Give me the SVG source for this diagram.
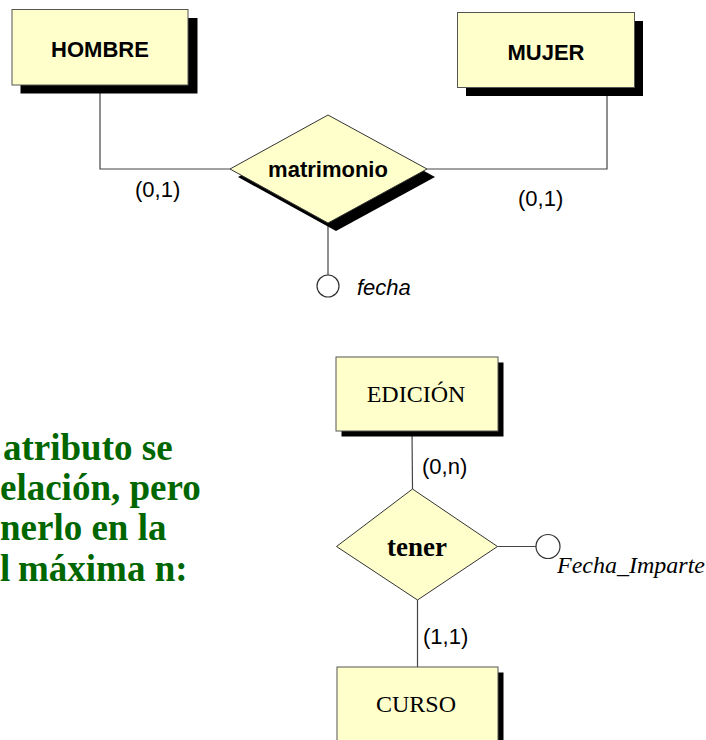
<svg xmlns="http://www.w3.org/2000/svg" width="706" height="740" viewBox="0 0 706 740">
<style>
.ent{fill:#FFFFCC;stroke:#555555;stroke-width:1}
.rel{fill:#FFFFCC;stroke:#333333;stroke-width:1}
.sh{fill:#000000}
.ln{fill:none;stroke:#444444;stroke-width:1.2}
.att{fill:#FFFFFF;stroke:#333333;stroke-width:1.2}
.sb{font-family:"Liberation Sans",Arial,sans-serif;font-weight:bold;font-size:22px;fill:#000;text-anchor:middle}
.sr{font-family:"Liberation Sans",Arial,sans-serif;font-size:22px;fill:#000}
.si{font-family:"Liberation Sans",Arial,sans-serif;font-style:italic;font-size:22px;fill:#000}
.tr{font-family:"Liberation Serif","Times New Roman",serif;font-size:24px;fill:#000;text-anchor:middle}
.tb{font-family:"Liberation Serif","Times New Roman",serif;font-weight:bold;font-size:27px;fill:#000;text-anchor:middle}
.ti{font-family:"Liberation Serif","Times New Roman",serif;font-style:italic;font-size:24px;fill:#000}
.gr{font-family:"Liberation Serif","Times New Roman",serif;font-weight:bold;font-size:37px;fill:#006600}
</style>
<g id="connectors">
<polyline class="ln" points="100,85 100,169 230,169"/>
<polyline class="ln" points="427,169 607,169 607,87"/>
<line class="ln" x1="328" y1="223" x2="328" y2="275"/>
<line class="ln" x1="412" y1="431" x2="412.5" y2="489"/>
<line class="ln" x1="497.5" y1="546.5" x2="536" y2="546.5"/>
<line class="ln" x1="417.5" y1="600" x2="417.5" y2="667"/>
<text class="sr" x="135" y="197">(0,1)</text>
<text class="sr" x="518" y="206">(0,1)</text>
<text class="sr" x="422" y="474">(0,n)</text>
<text class="sr" x="423" y="644">(1,1)</text>
</g>
<g id="hombre">
<rect class="sh" x="20.5" y="18" width="177" height="75.5"/>
<rect class="ent" x="12" y="9.5" width="176" height="75.5"/>
<text class="sb" x="100" y="57">HOMBRE</text>
</g>
<g id="mujer">
<rect class="sh" x="466" y="21" width="177" height="75"/>
<rect class="ent" x="457.5" y="12.5" width="177" height="75"/>
<text class="sb" x="546" y="60">MUJER</text>
</g>
<g id="matrimonio">
<polygon class="sh" points="238,177 336,123 435,177 336,231"/>
<polygon class="rel" points="230,169 328,115 427,169 328,223"/>
<text class="sb" x="328" y="177">matrimonio</text>
</g>
<g id="fecha">
<circle class="att" cx="328" cy="286" r="11"/>
<text class="si" x="357" y="295">fecha</text>
</g>
<g id="nota">
<text class="gr" x="3" y="460">atributo se</text>
<text class="gr" x="0" y="500">elación, pero</text>
<text class="gr" x="0" y="540">nerlo en la</text>
<text class="gr" x="0" y="581">l <tspan x="18">máxima n:</tspan></text>
</g>
<g id="edicion">
<rect class="sh" x="341.5" y="362.5" width="162" height="74"/>
<rect class="ent" x="336" y="357" width="162" height="74"/>
<text class="tr" x="416" y="402">EDICIÓN</text>
</g>
<g id="tener">
<polygon class="rel" points="412.5,489 497.5,546.5 417.5,600 336.5,546.5"/>
<text class="tb" x="417" y="556">tener</text>
</g>
<g id="fecha_imparte">
<circle class="att" cx="548" cy="546.5" r="12"/>
<text class="ti" x="557" y="573">Fecha_Imparte</text>
</g>
<g id="curso">
<rect class="sh" x="342.5" y="672.5" width="161" height="90"/>
<rect class="ent" x="337" y="667" width="161" height="90"/>
<text class="tr" x="416" y="712">CURSO</text>
</g>
</svg>
